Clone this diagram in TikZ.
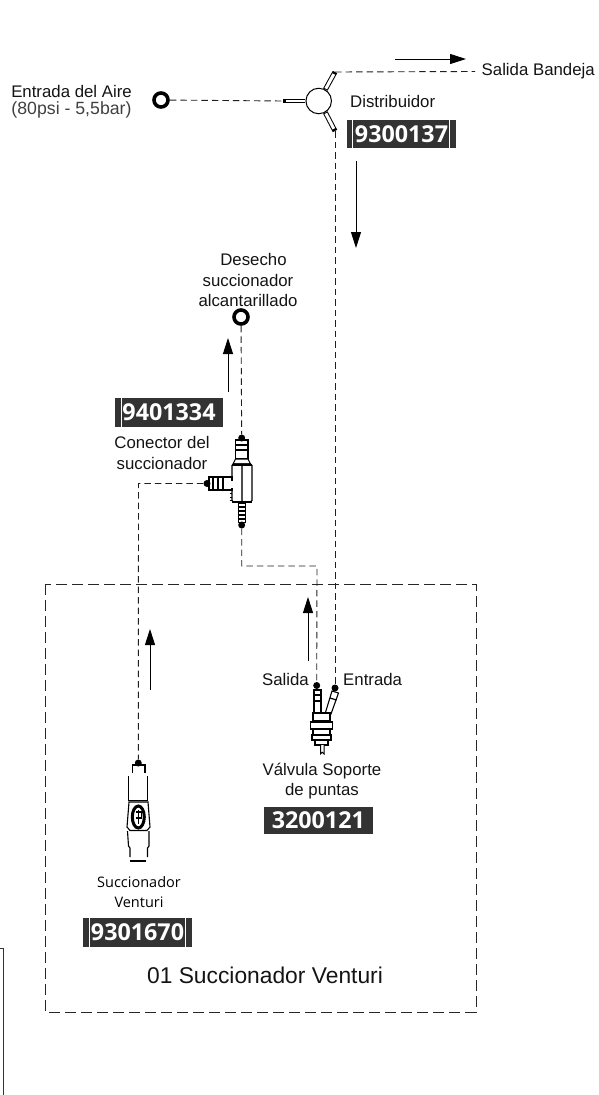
\documentclass[tikz,border=0pt]{standalone}
\usepackage{fontspec}
\setmainfont{Liberation Sans}
\newfontfamily\opensans{Open Sans}
\usetikzlibrary{arrows.meta,calc}
\definecolor{bardark}{HTML}{333333}
\tikzset{
  pipe/.style={line width=0.9pt,dash pattern=on 6.5pt off 4pt,draw=black!88},
  flow/.style={line width=1pt,-{Triangle[length=16pt,width=10pt]}},
  lbl/.style={font=\fontsize{16.8}{20.5}\selectfont,align=center,inner sep=0pt,text=black!92},
  lblv/.style={font=\opensans\fontsize{14.5}{20}\selectfont,align=center,inner sep=0pt},
  code/.style={font=\opensans\bfseries\fontsize{23.3}{24}\selectfont,text=white,fill=bardark,inner sep=0pt,text height=17pt,text depth=0pt,anchor=center},
  part/.style={line width=1.1pt,draw=black,fill=white},
  port/.style={circle,draw=black,line width=3.6pt,fill=white,minimum size=14pt,inner sep=0pt},
  nip/.style={circle,fill=black,minimum size=7pt,inner sep=0pt},
  sep/.style={white,line width=1pt}
}
\begin{document}
\begin{tikzpicture}[x=1pt,y=-1pt]
\useasboundingbox (0,0) rectangle (598,1095);
% outer dashed box
\draw[line width=0.9pt,dash pattern=on 11pt off 5pt,draw=black!85] (45,584) rectangle (476,1012);
% stray frame corner
\draw[line width=0.8pt,draw=black!80] (0,948.5) -- (3.5,948.5) -- (3.5,1095);
% Distributor
\node[circle,draw,line width=1pt,fill=white,minimum size=25.5pt,inner sep=0pt] (dist) at (318.7,101) {};
\coordinate (dl) at (283,101);
\coordinate (dt) at (335,72);
\coordinate (db) at (335,131);
\coordinate (dtend) at (475,71.5);
\draw[line width=4.6pt] (dl) -- (dist.west);
\draw[line width=2.6pt,white] ([xshift=3pt]dl) -- (dist.west);
\draw[line width=5pt] (dt) -- (dist.60);
\draw[line width=3pt,white] ($(dt)!0.12!(dist.60)$) -- ($(dist.60)!0.05!(dt)$);
\draw[line width=5pt] (db) -- (dist.-60);
\draw[line width=3pt,white] ($(db)!0.12!(dist.-60)$) -- ($(dist.-60)!0.05!(db)$);
\node[port] (in) at (161,100) {};
\node[port] (waste) at (241,317) {};
% Labels
\node[lbl] (t1) at (71.5,91) {Entrada del Aire};
\node[lbl,text=black!75,font=\fontsize{17.7}{20.5}\selectfont] (t2) at (71.5,110) {(80psi - 5,5bar)};
\node[lbl,anchor=west] (t3) at (481.5,71.5) {Salida Bandeja};
\node[lbl,anchor=west] (t4) at (350,101.5) {Distribuidor};
\node[lbl] (t5) at (248,280) {\hspace*{11pt}Desecho\\succionador\\alcantarillado};
\node[lbl] (t6) at (162,453) {Conector del\\succionador};
\node[lbl,anchor=east] (t7) at (309,679.5) {Salida};
\node[lbl,anchor=west] (t8) at (343,679.5) {Entrada};
\node[lbl] (t9) at (322,781) {Válvula Soporte\\de puntas};
\node[lblv] (t10) at (139,892) {Succionador\\Venturi};
\node[font=\fontsize{22.8}{26}\selectfont,inner sep=0pt,text=black!92] (t11) at (265,975) {01 Succionador Venturi};
% Code boxes
\node[code,minimum width=109pt,minimum height=28.5pt] (c1) at (401.5,134.2) {9300137};
\draw[sep] (352.7,120) -- (352.7,148.5);
\draw[sep] (449.5,120) -- (449.5,148.5);
\node[code,minimum width=108pt,minimum height=28.7pt] (c2) at (169,412.4) {9401334};
\draw[sep] (121,398) -- (121,426.7);
\node[code,minimum width=108.7pt,minimum height=27.5pt] (c3) at (318.3,820.4) {3200121};
\node[code,minimum width=108.7pt,minimum height=28.7pt] (c4) at (137.5,932.4) {9301670};
\draw[sep] (89.5,918) -- (89.5,946.7);
\draw[sep] (185,918) -- (185,946.7);
% Suction connector
\draw[part] (235.5,440) rectangle (248,459);
\draw[line width=1.4pt] (235.5,445) -- (248,445) (235.5,450) -- (248,450);
\draw[part] (235.5,459) -- (233,464) -- (250.5,464) -- (248,459) -- cycle;
\draw[part,rounded corners=1.5pt] (232,464) rectangle (252,502);
\draw[line width=1.4pt,black!70] (241.8,464) -- (241.8,502);
\draw[line width=2.2pt] (232,465) -- (252,465);
\draw[line width=2.4pt] (232,502) -- (252,502);
\draw[part] (209,477) rectangle (232,490);
\draw[line width=2pt] (209,477) -- (232,477);
\foreach \x in {213,218,223} \draw[line width=1.8pt] (\x,477) -- (\x,490);
\draw[draw=white,fill=white] (227,481) rectangle (233,487);
\foreach \y in {493,497,500} \draw[line width=1pt] (229.5,\y) -- (232,\y);
\draw[line width=1pt,fill=white] (238,503) rectangle (245.5,522);
\foreach \y in {507,511,515,519} \draw[line width=1.6pt] (237.5,\y) -- (246,\y);
\node[nip] (nT) at (241.7,438) {};
\node[nip] (nB) at (241.7,525) {};
\node[nip] (nL) at (207,483.5) {};
% Valve
\draw[part] (314,690) rectangle (321,714);
\draw[line width=1.3pt] (314,695) -- (321,695) (314,701) -- (321,701);
\draw[part] (332,691) -- (338.5,693) -- (331,714) -- (325,714) -- cycle;
\draw[line width=1.2pt] (330,698) -- (336.5,700);
\draw[part] (313,713) rectangle (330,721);
\draw[part] (310.5,722) rectangle (332.5,729);
\draw[part] (313,729) rectangle (330,735);
\draw[part] (312,735) rectangle (331,740);
\draw[part] (315,740) rectangle (328,745);
\draw[line width=1.8pt] (310.5,722) -- (332.5,722) (310.5,729) -- (332.5,729) (312,735) -- (331,735) (315,745) -- (328,745);
\draw[line width=1pt,fill=white] (320.5,745) -- (320.5,754) arc (180:360:1.75) -- (324,745);
\node[nip] (vL) at (316.7,685.5) {};
\node[nip] (vR) at (335,688) {};
% Venturi
\draw[part] (132.7,773) -- (132.7,765) -- (145,765) -- (145,773);
\draw[line width=1pt] (128,800) -- (128,776) (147.5,800) -- (147.5,776);
\draw[line width=1pt] (128,800) -- (147.5,800);
\draw[part] (129,802) -- (148,802) -- (150,827) -- (147,830.5) -- (130,830.5) -- (127,827) -- cycle;
\draw[line width=3pt,fill=white] (138.3,817) ellipse (6pt and 11pt);
\draw[line width=1.3pt] (135.5,812) -- (141.5,812) -- (141.5,818) -- (135.5,818) (138.5,810) -- (138.5,824);
\draw[line width=1.1pt] (127.5,831) -- (128.5,846) -- (130,848) -- (130,857) (149,831) -- (149,846) -- (147.5,848) -- (147.5,857);
\draw[line width=1.8pt] (130,861) -- (146,861);
\node[nip] (vn) at (138.3,763) {};
% Pipes
\draw[pipe] (in) -- (dl);
\draw[pipe] (dt) -- (dtend);
\draw[pipe] (db) -- (vR);
\draw[pipe] (waste) -- (nT);
\draw[pipe] (nL) -- (138.5,483.5) -- (vn);
\draw[pipe] (nB) -- (241.7,566) -- (317,566) -- (vL);
% Flow arrows
\draw[flow] (395,59) -- (466,59);
\draw[flow] (356,161) -- (356,248);
\draw[flow] (228,392) -- (228,338);
\draw[flow] (308,661) -- (308,597);
\draw[flow] (150,690) -- (150,629);
\end{tikzpicture}
\end{document}
